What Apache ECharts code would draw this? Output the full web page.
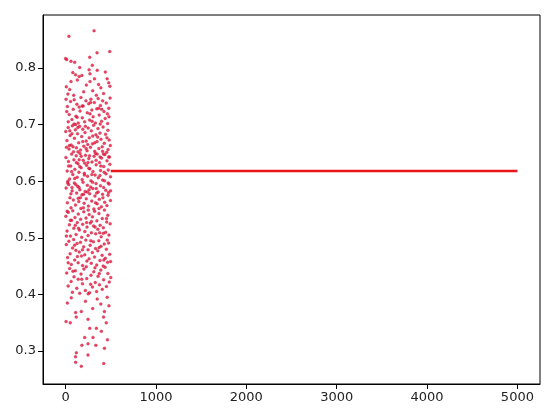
<!DOCTYPE html>
<html>
<head>
<meta charset="utf-8">
<script src="https://cdn.jsdelivr.net/npm/echarts@6/dist/echarts.min.js"></script>
<style>
  html, body { margin: 0; padding: 0; background: #fff; }
  #main { width: 553px; height: 419px; }
</style>
</head>
<body>
<div id="main"></div>
<script>
// scatter points (x, y)
var scatterPoints = [
  [37,0.856],[315,0.866],[489,0.829],[0,0.817],[59,0.812],[267,0.819],[348,0.827],[100,0.810],[296,0.805],[156,0.801],[12,0.815],
  [80,0.792],[110,0.788],[150,0.785],[260,0.797],[350,0.796],[270,0.790],[477,0.774],[490,0.768],[270,0.776],[365,0.771],[8,0.767],[45,0.762],[130,0.779],[200,0.758],[320,0.781],[420,0.755],[460,0.781],[90,0.752],[230,0.770],[390,0.765],[25,0.754],[180,0.787],[300,0.760],[440,0.793],[60,0.776],[340,0.752],
  [5,0.745],[20,0.732],[40,0.718],[55,0.741],[70,0.709],[85,0.727],[95,0.744],[115,0.715],[125,0.736],[140,0.703],[160,0.724],[170,0.748],[185,0.712],[195,0.733],[210,0.705],[225,0.742],[240,0.721],[255,0.737],[265,0.708],[280,0.745],[290,0.726],[305,0.714],[318,0.739],[330,0.703],[345,0.728],[360,0.746],[372,0.717],[385,0.734],[398,0.706],[410,0.742],[425,0.723],[438,0.711],[450,0.738],[465,0.702],[478,0.729],[492,0.747],[30,0.705],[150,0.731],[270,0.719],[400,0.727],[480,0.714],[110,0.700],
  [2,0.688],[15,0.672],[28,0.695],[38,0.657],[50,0.681],[62,0.664],[75,0.698],[88,0.652],[98,0.676],[108,0.691],[120,0.659],[132,0.684],[145,0.668],[155,0.697],[165,0.655],[178,0.679],[190,0.692],[202,0.662],[215,0.686],[228,0.671],[238,0.654],[250,0.694],[262,0.677],[275,0.660],[285,0.689],[298,0.666],[310,0.699],[322,0.653],[335,0.682],[348,0.670],[358,0.693],[368,0.658],[380,0.685],[392,0.674],[405,0.661],[415,0.696],[428,0.667],[442,0.683],[455,0.651],[468,0.690],[482,0.673],[495,0.663],[10,0.660],[135,0.695],[245,0.665],[355,0.678],[470,0.656],[70,0.684],[190,0.670],[300,0.680],
  [4,0.642],[18,0.618],[32,0.635],[44,0.604],[57,0.627],[67,0.648],[80,0.612],[92,0.638],[103,0.621],[117,0.645],[128,0.607],[138,0.631],[148,0.616],[160,0.649],[172,0.624],[183,0.603],[195,0.637],[207,0.614],[220,0.646],[232,0.628],[243,0.609],[257,0.640],[268,0.622],[280,0.601],[292,0.634],[303,0.617],[315,0.644],[327,0.611],[338,0.629],[350,0.648],[362,0.606],[375,0.633],[387,0.619],[398,0.641],[410,0.602],[422,0.626],[435,0.647],[447,0.613],[458,0.636],[472,0.620],[485,0.643],[497,0.608],[25,0.600],[150,0.638],[265,0.645],[380,0.610],[490,0.630],[100,0.605],[210,0.632],[330,0.649],
  [6,0.588],[20,0.562],[35,0.594],[48,0.571],[60,0.553],[73,0.583],[86,0.567],[97,0.597],[110,0.558],[122,0.579],[134,0.591],[146,0.564],[158,0.585],[169,0.552],[181,0.576],[193,0.598],[205,0.561],[217,0.582],[229,0.569],[241,0.593],[253,0.556],[266,0.578],[278,0.590],[289,0.565],[301,0.587],[313,0.551],[325,0.574],[337,0.596],[349,0.560],[361,0.581],[373,0.568],[386,0.592],[397,0.555],[409,0.577],[421,0.589],[433,0.563],[445,0.584],[457,0.557],[470,0.575],[483,0.595],[496,0.566],[140,0.570],[260,0.585],[370,0.552],[475,0.580],
  [3,0.538],[16,0.512],[30,0.545],[42,0.523],[54,0.503],[66,0.531],[79,0.548],[91,0.517],[104,0.536],[116,0.506],[129,0.527],[141,0.542],[153,0.514],[166,0.533],[178,0.501],[189,0.524],[201,0.546],[213,0.511],[226,0.535],[237,0.519],[249,0.504],[261,0.541],[273,0.526],[286,0.509],[297,0.537],[309,0.521],[321,0.547],[333,0.507],[346,0.530],[357,0.515],[369,0.543],[382,0.522],[394,0.502],[406,0.534],[418,0.518],[430,0.549],[443,0.510],[455,0.528],[467,0.540],[480,0.505],[493,0.525],
  [8,0.488],[22,0.465],[36,0.494],[50,0.472],[63,0.453],[77,0.482],[89,0.497],[101,0.461],[114,0.478],[127,0.490],[139,0.456],[152,0.475],[164,0.492],[176,0.468],[188,0.451],[200,0.484],[212,0.470],[224,0.496],[236,0.459],[248,0.479],[260,0.463],[272,0.487],[284,0.455],[296,0.474],[308,0.493],[320,0.466],[332,0.481],[344,0.452],[356,0.477],[368,0.495],[380,0.460],[392,0.485],[404,0.469],[416,0.450],[428,0.489],[440,0.464],[452,0.480],[464,0.457],[476,0.491],[488,0.471],[498,0.458],
  [12,0.438],[28,0.415],[45,0.446],[61,0.423],[76,0.404],[93,0.431],[108,0.442],[124,0.411],[139,0.427],[156,0.402],[171,0.436],[187,0.419],[203,0.445],[219,0.407],[234,0.428],[250,0.401],[265,0.403],[281,0.434],[297,0.413],[312,0.440],[328,0.421],[343,0.405],[359,0.432],[375,0.417],[390,0.443],[406,0.409],[421,0.426],[437,0.448],[452,0.414],[468,0.437],[484,0.422],[500,0.430],
  [63,0.394],[111,0.368],[118,0.360],[248,0.356],[174,0.370],[430,0.370],[420,0.360],[450,0.350],[390,0.383],[480,0.380],[20,0.385],[300,0.375],[350,0.392],[5,0.352],[220,0.388],[460,0.395],
  [52,0.350],[267,0.340],[341,0.340],[396,0.335],[211,0.324],[303,0.324],[180,0.310],[248,0.313],[335,0.310],[463,0.320],[430,0.305],
  [119,0.297],[110,0.290],[248,0.293],[111,0.280],[174,0.273],[422,0.278],
  // extra points filling the dense middle of the cloud
  [13,0.723],[47,0.689],[83,0.661],[127,0.713],[173,0.644],[219,0.697],[257,0.623],[293,0.706],[337,0.637],[383,0.701],[419,0.648],[463,0.719],[33,0.627],[71,0.589],[119,0.633],[163,0.571],[209,0.611],[251,0.549],[299,0.598],[343,0.579],[389,0.627],[431,0.601],[477,0.643],[17,0.547],[59,0.578],[107,0.522],[149,0.589],[197,0.553],[241,0.581],[287,0.529],[331,0.562],[377,0.509],[413,0.571],[453,0.534],[497,0.583],
  [41,0.663],[93,0.701],[137,0.652],[183,0.733],[227,0.658],[277,0.739],[323,0.668],[367,0.729],[409,0.653],[457,0.677],[23,0.597],[67,0.617],[113,0.594],[157,0.626],[199,0.577],[247,0.633],[291,0.612],[339,0.587],[381,0.643],[427,0.616],[471,0.597],[9,0.503],[53,0.531],[99,0.487],[143,0.517],[187,0.479],[233,0.527],[279,0.495],[327,0.519],[371,0.483],[417,0.508],[461,0.496],[29,0.456],[81,0.441],[131,0.467],[179,0.427],[229,0.449],[277,0.418],[325,0.447],[373,0.437],[423,0.461]
];
// horizontal line after the scatter block
var lineX = [500, 5000];
var lineValue = 0.618;
// tick labels
var xTicks = [0, 1000, 2000, 3000, 4000, 5000];
var yTicks = [0.3, 0.4, 0.5, 0.6, 0.7, 0.8];

var lineData = [];
for (var i = 0; i < lineX.length; i++) {
  lineData.push([lineX[i], lineValue]);
}

var chart = echarts.init(document.getElementById('main'));
chart.setOption({
  animation: false,
  grid: {
    left: 43, right: 13, top: 15, bottom: 35,
    show: true, borderColor: '#000', borderWidth: 1
  },
  xAxis: {
    type: 'value',
    min: -250, max: 5250,
    splitLine: { show: false },
    axisLine: { show: true, onZero: false, lineStyle: { color: '#000', width: 1 } },
    axisTick: { show: true, inside: false, length: 5, customValues: xTicks, lineStyle: { color: '#000' } },
    axisLabel: {
      customValues: xTicks, color: '#222', fontFamily: 'DejaVu Sans', fontSize: 13, margin: 7,
      formatter: function (v) { return String(v); }
    }
  },
  yAxis: {
    type: 'value',
    min: 0.2417, max: 0.8937,
    splitLine: { show: false },
    axisLine: { show: true, onZero: false, lineStyle: { color: '#000', width: 1 } },
    axisTick: { show: true, inside: false, length: 5, customValues: yTicks, lineStyle: { color: '#000' } },
    axisLabel: {
      customValues: yTicks, color: '#222', fontFamily: 'DejaVu Sans', fontSize: 13, margin: 7,
      formatter: function (v) { return v.toFixed(1); }
    }
  },
  series: [
    {
      type: 'scatter',
      data: scatterPoints,
      symbol: 'circle',
      symbolSize: 3,
      itemStyle: { color: '#f0103a', borderColor: '#9a2a44', borderWidth: 0.3 }
    },
    {
      type: 'line',
      data: lineData,
      showSymbol: false,
      lineStyle: { color: '#e81418', width: 2.6 }
    }
  ]
});
</script>
</body>
</html>
